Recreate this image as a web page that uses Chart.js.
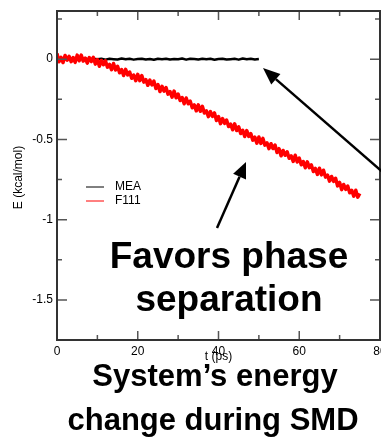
<!DOCTYPE html>
<html>
<head>
<meta charset="utf-8">
<script src="https://cdn.jsdelivr.net/npm/chart.js@4.4.0/dist/chart.umd.min.js"></script>
<style>
html, body { margin: 0; padding: 0; background: #fff; }
#wrap { width: 381px; height: 437px; }
</style>
</head>
<body>
<div id="wrap"><canvas id="energyChart" width="381" height="437"></canvas></div>
<script>
// MEA, sampled every 1 ps up to 50 ps
var tMea = [0,1,2,3,4,5,6,7,8,9,
    10,11,12,13,14,15,16,17,18,19,
    20,21,22,23,24,25,26,27,28,29,
    30,31,32,33,34,35,36,37,38,39,
    40,41,42,43,44,45,46,47,48,49,50];
var mea = [0.001,-0.002,0.003,-0.001,0.002,-0.003,0.001,0.004,-0.002,0.002,
    -0.001,0.003,-0.003,0.002,0.000,-0.002,0.004,-0.001,0.002,-0.003,
    0.001,0.003,-0.002,0.001,-0.004,0.002,0.000,0.003,-0.002,0.001,
    -0.001,0.004,-0.003,0.002,0.001,-0.002,0.003,-0.001,0.002,-0.004,
    0.001,0.003,-0.002,0.000,0.002,-0.003,0.004,-0.001,0.002,-0.002,0.001];

// F111, sampled every 0.5 ps up to 75 ps (noisy trace)
var tF111 = [0,0.5,1,1.5,2,2.5,3,3.5,4,4.5,
    5,5.5,6,6.5,7,7.5,8,8.5,9,9.5,
    10,10.5,11,11.5,12,12.5,13,13.5,14,14.5,
    15,15.5,16,16.5,17,17.5,18,18.5,19,19.5,
    20,20.5,21,21.5,22,22.5,23,23.5,24,24.5,
    25,25.5,26,26.5,27,27.5,28,28.5,29,29.5,
    30,30.5,31,31.5,32,32.5,33,33.5,34,34.5,
    35,35.5,36,36.5,37,37.5,38,38.5,39,39.5,
    40,40.5,41,41.5,42,42.5,43,43.5,44,44.5,
    45,45.5,46,46.5,47,47.5,48,48.5,49,49.5,
    50,50.5,51,51.5,52,52.5,53,53.5,54,54.5,
    55,55.5,56,56.5,57,57.5,58,58.5,59,59.5,
    60,60.5,61,61.5,62,62.5,63,63.5,64,64.5,
    65,65.5,66,66.5,67,67.5,68,68.5,69,69.5,
    70,70.5,71,71.5,72,72.5,73,73.5,74,74.5,75];
var f111 = [0.035,-0.016,0.011,-0.021,0.023,-0.006,0.018,-0.016,0.010,-0.020,
    0.025,-0.010,0.025,-0.012,0.006,-0.025,0.010,-0.015,0.011,-0.031,
    -0.003,-0.044,-0.008,-0.035,-0.011,-0.050,-0.033,-0.066,-0.027,-0.068,
    -0.044,-0.085,-0.065,-0.102,-0.064,-0.098,-0.080,-0.119,-0.099,-0.134,
    -0.095,-0.134,-0.102,-0.143,-0.128,-0.163,-0.131,-0.160,-0.137,-0.183,
    -0.158,-0.202,-0.169,-0.199,-0.177,-0.218,-0.202,-0.237,-0.199,-0.241,
    -0.217,-0.258,-0.239,-0.278,-0.242,-0.278,-0.262,-0.303,-0.285,-0.322,
    -0.285,-0.325,-0.294,-0.336,-0.322,-0.358,-0.327,-0.357,-0.335,-0.382,
    -0.358,-0.402,-0.370,-0.400,-0.379,-0.420,-0.405,-0.440,-0.403,-0.445,
    -0.422,-0.463,-0.443,-0.482,-0.445,-0.481,-0.464,-0.505,-0.486,-0.523,
    -0.485,-0.525,-0.494,-0.536,-0.522,-0.558,-0.527,-0.557,-0.535,-0.582,
    -0.558,-0.602,-0.569,-0.599,-0.577,-0.618,-0.602,-0.637,-0.599,-0.641,
    -0.617,-0.658,-0.638,-0.677,-0.640,-0.676,-0.659,-0.700,-0.681,-0.718,
    -0.680,-0.721,-0.692,-0.735,-0.723,-0.760,-0.731,-0.762,-0.742,-0.790,
    -0.768,-0.813,-0.781,-0.812,-0.791,-0.833,-0.818,-0.854,-0.817,-0.860,-0.837];

var xTicks = [0, 20, 40, 60, 80];
var yTicks = [-1.5, -1, -0.5, 0];
var seriesNames = ['MEA', 'F111'];
var seriesColors = ['#000000', '#ff0000'];

var FONT = '"Liberation Sans", Arial, Helvetica, sans-serif';

function toPoints(ts, vs) {
    return ts.map(function(t, i) { return { x: t, y: vs[i] }; });
}

function drawArrow(ctx, x1, y1, x2, y2, headLen, headW) {
    var ang = Math.atan2(y2 - y1, x2 - x1);
    var bx = x2 - headLen * Math.cos(ang), by = y2 - headLen * Math.sin(ang);
    ctx.beginPath();
    ctx.moveTo(x1, y1);
    ctx.lineTo(bx, by);
    ctx.stroke();
    ctx.beginPath();
    ctx.moveTo(x2, y2);
    ctx.lineTo(bx + headW * Math.sin(ang), by - headW * Math.cos(ang));
    ctx.lineTo(bx - headW * Math.sin(ang), by + headW * Math.cos(ang));
    ctx.closePath();
    ctx.fill();
}

var decorPlugin = {
    id: 'decor',
    afterDatasetsDraw: function(chart) {
        var ctx = chart.ctx, a = chart.chartArea;
        var xs = chart.scales.x, ys = chart.scales.y;
        ctx.save();

        // inside ticks on all four sides
        ctx.strokeStyle = '#555';
        ctx.lineWidth = 1.5;
        for (var t = 0; t <= 80; t += 10) {
            var px = xs.getPixelForValue(t);
            var len = (t % 20 === 0) ? 9 : 5;
            ctx.beginPath();
            ctx.moveTo(px, a.bottom); ctx.lineTo(px, a.bottom - len);
            ctx.moveTo(px, a.top); ctx.lineTo(px, a.top + len);
            ctx.stroke();
        }
        for (var v = -1.75; v <= 0.3; v += 0.25) {
            var py = ys.getPixelForValue(v);
            var l2 = (Math.abs(v * 2 - Math.round(v * 2)) < 1e-6) ? 10 : 5;
            ctx.beginPath();
            ctx.moveTo(a.left, py); ctx.lineTo(a.left + l2, py);
            ctx.moveTo(a.right, py); ctx.lineTo(a.right - l2, py);
            ctx.stroke();
        }

        // frame
        ctx.strokeStyle = '#333';
        ctx.lineWidth = 2;
        ctx.strokeRect(a.left, a.top, a.right - a.left, a.bottom - a.top);

        // legend
        ctx.lineWidth = 1;
        ctx.font = '12px ' + FONT;
        ctx.textAlign = 'left';
        ctx.textBaseline = 'middle';
        for (var i = 0; i < seriesNames.length; i++) {
            var ly = a.top + 176 + i * 14;
            ctx.strokeStyle = seriesColors[i];
            ctx.beginPath();
            ctx.moveTo(a.left + 29, ly); ctx.lineTo(a.left + 47, ly);
            ctx.stroke();
            ctx.fillStyle = '#000';
            ctx.fillText(seriesNames[i], a.left + 58, ly);
        }

        // axis titles
        ctx.fillStyle = '#000';
        ctx.font = '12px ' + FONT;
        ctx.textAlign = 'center';
        ctx.textBaseline = 'alphabetic';
        ctx.fillText('t (ps)', xs.getPixelForValue(40), 360);
        ctx.save();
        ctx.translate(19, (a.top + a.bottom) / 2 + 2);
        ctx.rotate(-Math.PI / 2);
        ctx.textBaseline = 'middle';
        ctx.fillText('E (kcal/mol)', 0, 0);
        ctx.restore();

        // arrows
        ctx.strokeStyle = '#000';
        ctx.fillStyle = '#000';
        ctx.lineWidth = 2.5;
        drawArrow(ctx, 217, 228, 246, 162, 16, 7);
        drawArrow(ctx, 386, 175, 263, 68, 17, 7);

        // annotation text
        ctx.font = 'bold 37px ' + FONT;
        ctx.textAlign = 'center';
        ctx.textBaseline = 'alphabetic';
        ctx.fillText('Favors phase', 229, 268);
        ctx.fillText('separation', 229, 311);
        ctx.font = 'bold 31px ' + FONT;
        ctx.fillText('System\u2019s energy', 215, 386);
        ctx.fillText('change during SMD', 213, 430);

        ctx.restore();
    }
};

var ctx = document.getElementById('energyChart').getContext('2d');
var energyChart = new Chart(ctx, {
    type: 'line',
    data: {
        datasets: [
            {
                label: seriesNames[0],
                data: toPoints(tMea, mea),
                borderColor: seriesColors[0],
                borderWidth: 2.5,
                borderJoinStyle: 'round',
                order: 2
            },
            {
                label: seriesNames[1],
                data: toPoints(tF111, f111),
                borderColor: seriesColors[1],
                borderWidth: 3.5,
                borderJoinStyle: 'round',
                order: 1
            }
        ]
    },
    options: {
        responsive: false,
        animation: false,
        devicePixelRatio: 1,
        layout: { padding: { top: 11, right: 1, left: 0, bottom: 0 } },
        elements: { point: { radius: 0 }, line: { tension: 0 } },
        plugins: {
            legend: { display: false },
            tooltip: { enabled: false },
            title: { display: false }
        },
        scales: {
            x: {
                type: 'linear',
                min: 0,
                max: 80,
                grid: { display: false, drawTicks: false },
                border: { display: false },
                ticks: {
                    padding: 4,
                    color: '#000',
                    maxRotation: 0,
                    autoSkip: false,
                    font: { family: FONT, size: 12 },
                    callback: function(v) { return String(v); }
                },
                afterBuildTicks: function(s) { s.ticks = xTicks.map(function(v) { return { value: v }; }); },
                afterFit: function(s) { s.height = 97; s.paddingLeft = 0; s.paddingRight = 0; }
            },
            y: {
                type: 'linear',
                min: -1.75,
                max: 0.3,
                grid: { display: false, drawTicks: false },
                border: { display: false },
                ticks: {
                    padding: 4,
                    color: '#000',
                    font: { family: FONT, size: 12 },
                    callback: function(v) { return String(v); }
                },
                afterBuildTicks: function(s) { s.ticks = yTicks.map(function(v) { return { value: v }; }); },
                afterFit: function(s) { s.width = 57; s.paddingTop = 0; s.paddingBottom = 0; }
            }
        }
    },
    plugins: [decorPlugin]
});
</script>
</body>
</html>
